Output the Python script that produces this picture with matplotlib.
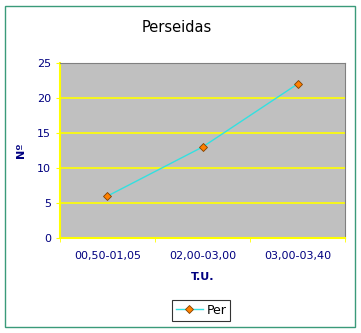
import matplotlib
matplotlib.use('Agg')
import matplotlib.pyplot as plt
from matplotlib.patches import Rectangle

# datos
intervalos = ['00,50-01,05', '02,00-03,00', '03,00-03,40']
per = [6, 13, 22]

navy = '#000080'
amarillo = '#ffff00'

fig = plt.figure(figsize=(3.61, 3.33), dpi=100)
fig.patch.set_facecolor('white')
ax = fig.add_axes([0.166, 0.285, 0.79, 0.526])
ax.set_facecolor('#c0c0c0')

# borde exterior
fig.patches.append(Rectangle((0.014, 0.018), 0.969, 0.965, transform=fig.transFigure,
                             fill=False, edgecolor='#3a9a7a', linewidth=1))

xs = [i + 0.5 for i in range(len(per))]
ax.plot(xs, per, color='#33e0e0', linewidth=1, marker='D', markersize=4.5,
        markerfacecolor='#ff8000', markeredgecolor='#804000', markeredgewidth=0.6,
        label='Per', zorder=3)

ax.set_xlim(0, 3)
ax.set_ylim(0, 25)
ax.set_yticks(range(0, 26, 5))
for y in range(5, 26, 5):
    ax.axhline(y, color=amarillo, linewidth=1.2, zorder=1)

ax.set_xticks(xs)
ax.set_xticklabels(intervalos)
ax.set_xticks([0, 1, 2, 3], minor=True)
ax.tick_params(axis='x', which='major', length=0, pad=9, labelsize=8, labelcolor=navy)
ax.tick_params(axis='x', which='minor', length=3, color=amarillo, direction='out')
ax.tick_params(axis='y', length=3, color=amarillo, labelsize=8, labelcolor=navy)

ax.spines['left'].set_color(amarillo)
ax.spines['bottom'].set_color(amarillo)
ax.spines['left'].set_linewidth(1.5)
ax.spines['bottom'].set_linewidth(1.5)
ax.spines['top'].set_color('#808080')
ax.spines['right'].set_color('#808080')

fig.text(0.49, 0.918, 'Perseidas', fontsize=10.5, ha='center', va='center')
ax.set_xlabel('T.U.', fontsize=8, fontweight='bold', color=navy, labelpad=8)
ax.set_ylabel('Nº', fontsize=8, fontweight='bold', color=navy, labelpad=8)

leg = fig.legend(loc='center', bbox_to_anchor=(0.557, 0.068), fontsize=9,
                 frameon=True, fancybox=False, edgecolor='black', handlelength=2.2,
                 borderpad=0.3, handletextpad=0.3)
leg.get_frame().set_linewidth(0.8)

fig.savefig('out.png', dpi=100)
